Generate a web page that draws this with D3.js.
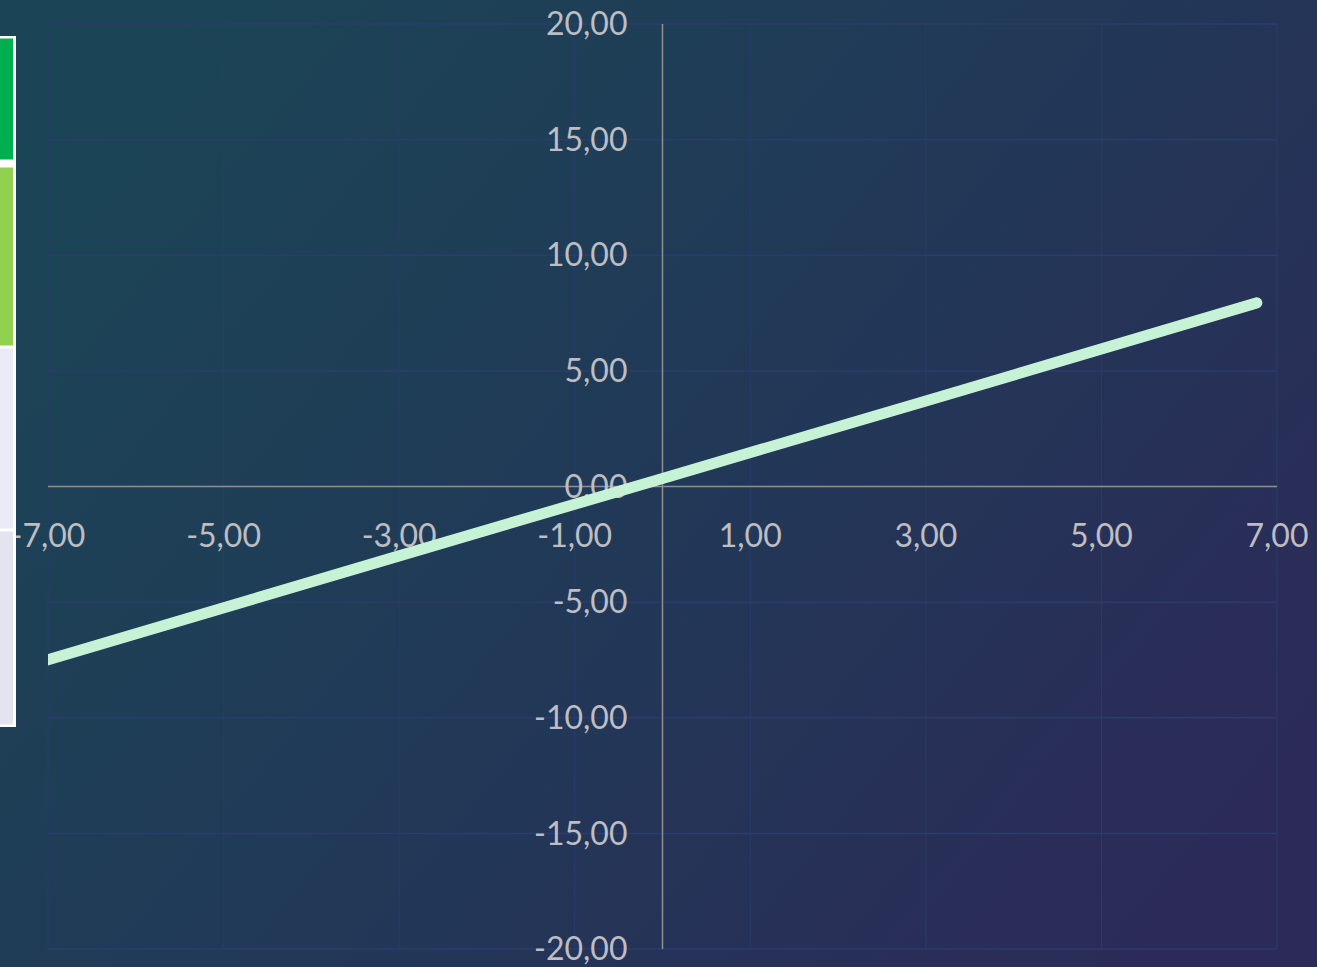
<!DOCTYPE html>
<html>
<head>
<meta charset="utf-8">
<script src="https://cdn.jsdelivr.net/npm/d3@7"></script>
<style>
  html, body { margin: 0; padding: 0; background: #1f3a57; }
  svg { display: block; }
</style>
</head>
<body>
<div id="chart"></div>
<script>
(function() {
	// points
	var xValues = [-7.5, -3, 0, 3, 6.77];
	var yValues = [-8.05, -3.0, 0.35, 3.7, 7.94];

	var xTicks = [-7, -5, -3, -1, 1, 3, 5, 7];
	var yTicks = [-20, -15, -10, -5, 0, 5, 10, 15, 20];

	// cut-off legend blocks at the left edge
	var legendTops = [37, 166, 347, 530];
	var legendBottoms = [161, 347, 530, 726];
	var legendColors = ["#00b050", "#92d050", "#e9ecf6", "#e2e5f0"];

	var width = 1317, height = 967;
	var left = 48, right = 1277, top = 24, bottom = 949;

	var svg = d3.select("#chart").append("svg")
		.attr("width", width)
		.attr("height", height);

	var defs = svg.append("defs");
	var grad = defs.append("linearGradient")
		.attr("id", "bg")
		.attr("x1", "0").attr("y1", "0.2")
		.attr("x2", "1").attr("y2", "0.8");
	grad.append("stop").attr("offset", "0").attr("stop-color", "#1b4556");
	grad.append("stop").attr("offset", "0.5").attr("stop-color", "#213957");
	grad.append("stop").attr("offset", "1").attr("stop-color", "#2c2a58");

	defs.append("clipPath").attr("id", "plot")
		.append("rect")
		.attr("x", left).attr("y", top)
		.attr("width", right - left).attr("height", bottom - top);

	svg.append("rect")
		.attr("width", width).attr("height", height)
		.attr("fill", "url(#bg)");

	var x = d3.scaleLinear().domain([-7, 7]).range([left, right]);
	var y = d3.scaleLinear().domain([-20, 20]).range([bottom, top]);

	// gridlines
	svg.append("g").selectAll("line")
		.data(yTicks)
		.enter().append("line")
		.attr("x1", left).attr("x2", right)
		.attr("y1", function(d) { return y(d); })
		.attr("y2", function(d) { return y(d); })
		.attr("stroke", "#2b3d6c")
		.attr("stroke-width", 1.5);

	svg.append("g").selectAll("line")
		.data(xTicks)
		.enter().append("line")
		.attr("y1", top).attr("y2", bottom)
		.attr("x1", function(d) { return x(d); })
		.attr("x2", function(d) { return x(d); })
		.attr("stroke", "#283d66")
		.attr("stroke-width", 1);

	// axis lines
	svg.append("line")
		.attr("x1", left).attr("x2", right)
		.attr("y1", y(0)).attr("y2", y(0))
		.attr("stroke", "#8f8f8f").attr("stroke-width", 1.5);
	svg.append("line")
		.attr("x1", x(0)).attr("x2", x(0))
		.attr("y1", top).attr("y2", bottom)
		.attr("stroke", "#8f8f8f").attr("stroke-width", 1.5);

	var fmt = function(d) { return d3.format(".2f")(d).replace(".", ",").replace("−", "-"); };

	svg.append("g").selectAll("text")
		.data(yTicks)
		.enter().append("text")
		.attr("x", x(0) - 35)
		.attr("y", function(d) { return y(d); })
		.attr("dy", "0.35em")
		.attr("text-anchor", "end")
		.attr("font-family", "Lato, 'Open Sans', sans-serif")
		.attr("font-size", 32)
		.attr("fill", "#bdbdc2")
		.text(fmt);

	svg.append("g").selectAll("text")
		.data(xTicks)
		.enter().append("text")
		.attr("x", function(d) { return x(d); })
		.attr("y", y(0) + 49)
		.attr("dy", "0.35em")
		.attr("text-anchor", "middle")
		.attr("font-family", "Lato, 'Open Sans', sans-serif")
		.attr("font-size", 32)
		.attr("fill", "#bdbdc2")
		.text(fmt);

	// the series
	var pts = xValues.map(function(v, i) { return [v, yValues[i]]; });
	var line = d3.line()
		.x(function(d) { return x(d[0]); })
		.y(function(d) { return y(d[1]); });

	svg.append("path")
		.datum(pts)
		.attr("clip-path", "url(#plot)")
		.attr("d", line)
		.attr("fill", "none")
		.attr("stroke", "#c6f2d6")
		.attr("stroke-width", 11)
		.attr("stroke-linecap", "round");

	// legend blocks cut by the left edge
	svg.append("rect")
		.attr("x", -5).attr("y", legendTops[0] - 1)
		.attr("width", 21).attr("height", legendBottoms[3] - legendTops[0] + 2)
		.attr("fill", "#ffffff");
	svg.append("g").selectAll("rect")
		.data(legendColors)
		.enter().append("rect")
		.attr("x", -5)
		.attr("y", function(d, i) { return legendTops[i] + 1.5; })
		.attr("width", 18)
		.attr("height", function(d, i) { return legendBottoms[i] - legendTops[i] - 3; })
		.attr("fill", function(d) { return d; });
})();
</script>
</body>
</html>
